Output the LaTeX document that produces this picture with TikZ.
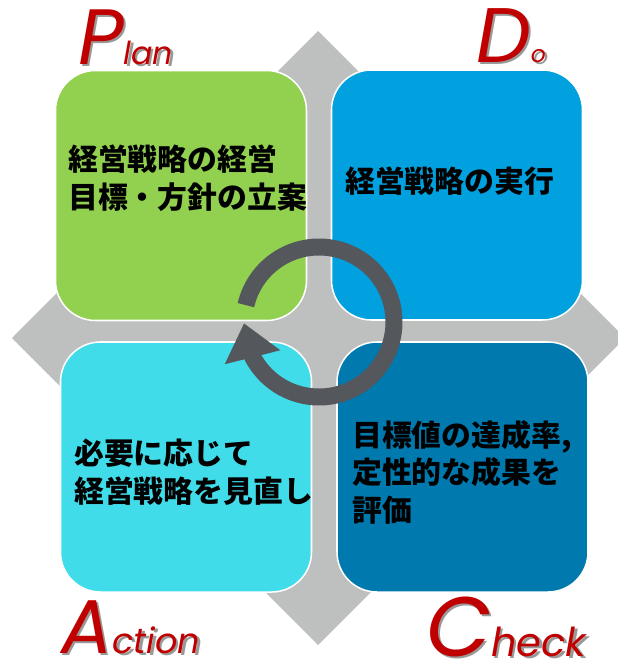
\documentclass[tikz,border=0pt]{standalone}
\usepackage{fontspec}
\usepackage{xcolor}
\newfontfamily\jpfont{Noto Sans CJK JP}
\newfontfamily\pdcafont{Poppins}
\definecolor{planGreen}{HTML}{92D050}
\definecolor{doBlue}{HTML}{00A1DE}
\definecolor{actCyan}{HTML}{40DCEA}
\definecolor{checkBlue}{HTML}{0079AF}
\definecolor{diaGray}{HTML}{BEBFBF}
\definecolor{ringGray}{HTML}{54575B}
\definecolor{labelRed}{HTML}{C00000}
\usetikzlibrary{arrows.meta,bending}
\newcommand{\pdcaword}[4]{\fontsize{#3}{#3}\selectfont #1\fontsize{#4}{#4}\selectfont #2}

\begin{document}
\begin{tikzpicture}[x=0.03cm, y=-0.03cm,
  quad/.style={draw=white, line width=1.3pt, rounded corners=1.2cm,
    minimum width=7.53cm, minimum height=7.5cm, inner sep=0pt},
  jptext/.style={anchor=north west, inner sep=0pt, align=left,
    font=\jpfont\bfseries\fontsize{25.5}{32}\selectfont},
  pdca/.style={anchor=base west, inner sep=0pt, text=labelRed, font=\pdcafont\itshape},
  pdcashadow/.style={pdca, text=black!40}]
  \useasboundingbox (0,0) rectangle (618,665);
  % gray diamond behind the four boxes
  \fill[diaGray] (318,31) -- (625,338) -- (318,645) -- (12,338) -- cycle;
  % PDCA boxes
  \node[quad, fill=planGreen] (plan) at (181,195.5) {};
  \node[quad, fill=doBlue] (do) at (457,195) {};
  \node[quad, fill=actCyan] (act) at (186,467) {};
  \node[quad, fill=checkBlue] (check) at (462.5,467) {};
  % cycle arrow
  \coordinate (hub) at (319,322);
  \draw[ringGray, line width=0.51cm, -{Triangle[width=1.65cm,length=1.05cm]}]
    ([shift={(193:75)}]hub) arc[start angle=193, end angle=539, radius=75];
  % box texts
  \node[jptext] (plan-text) at (68,145) {経営戦略の経営\\目標・方針の立案};
  \node[jptext] (do-text) at (345,167) {経営戦略の実行};
  \node[jptext] (act-text) at (74,439) {必要に応じて\\経営戦略を見直し};
  \node[jptext] (check-text) at (352,420) {目標値の達成率,\\定性的な成果を\\評価};
  % red titles with shadow
  \node[pdcashadow] (plan-shadow) at (80.5,66.5) {\pdcaword{P}{lan}{67}{27}};
  \node[pdca] (plan-label) at (78,64) {\pdcaword{P}{lan}{67}{27}};
  \node[pdcashadow] (do-shadow) at (478.5,64.5) {\pdcaword{D}{o}{66}{20}};
  \node[pdca] (do-label) at (476,62) {\pdcaword{D}{o}{66}{20}};
  \node[pdcashadow] (act-shadow) at (63.5,655.5) {\pdcaword{A}{ction}{65}{30}};
  \node[pdca] (act-label) at (61,653) {\pdcaword{A}{ction}{65}{30}};
  \node[pdcashadow] (check-shadow) at (428.5,658.5) {\pdcaword{C}{heck}{72}{34}};
  \node[pdca] (check-label) at (426,656) {\pdcaword{C}{heck}{72}{34}};
\end{tikzpicture}
\end{document}
